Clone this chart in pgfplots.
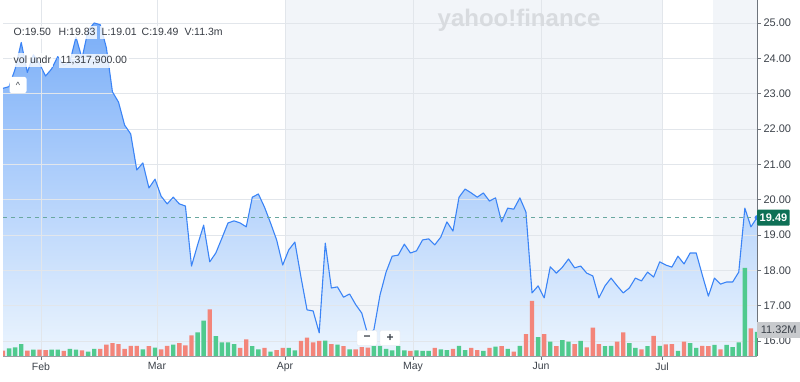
\documentclass[border=0pt]{standalone}
\usepackage{fontspec}
\setmainfont{Liberation Sans}
\usepackage{pgfplots}
\usepackage{pgfplotstable}
\pgfplotsset{compat=1.18}

\definecolor{linec}{RGB}{59,132,246}
\definecolor{gridc}{RGB}{226,230,235}
\definecolor{bgshade}{RGB}{242,245,249}
\definecolor{upc}{RGB}{80,202,142}
\definecolor{downc}{RGB}{243,133,122}
\definecolor{dashc}{RGB}{105,168,160}
\definecolor{closec}{RGB}{14,112,86}
\definecolor{volbox}{RGB}{200,202,205}
\definecolor{textc}{RGB}{60,66,74}
\definecolor{axisc}{RGB}{110,116,124}
\definecolor{fillTop}{RGB}{122,174,248}
\definecolor{fillBot}{RGB}{236,245,254}
\definecolor{wmark}{RGB}{216,219,223}

\pgfplotstableread{
i p
0 23.15
1 23.2
2 23.7
3 24.45
4 23.6
5 24.1
6 23.85
7 23.5
8 23.7
9 24.05
10 23.8
11 23.9
12 24.6
13 24.0
14 24.8
15 25.0
16 24.95
17 24.3
18 23.05
19 22.76
20 22.11
21 21.86
22 20.84
23 21.04
24 20.33
25 20.58
26 20.10
27 19.88
28 20.07
29 19.88
30 19.82
31 18.12
32 18.72
33 19.28
34 18.24
35 18.49
36 18.91
37 19.34
38 19.40
39 19.34
40 19.23
41 20.07
42 20.16
43 19.79
44 19.34
45 18.86
46 18.15
47 18.58
48 18.80
49 17.81
50 16.88
51 16.85
52 16.23
53 18.77
54 17.50
55 17.53
56 17.24
57 17.33
58 17.03
59 16.79
60 16.17
61 16.32
62 17.30
63 17.95
64 18.40
65 18.43
66 18.74
67 18.49
68 18.55
69 18.86
70 18.89
71 18.72
72 18.94
73 19.37
74 19.11
75 20.07
76 20.30
77 20.19
78 20.07
79 20.19
80 19.96
81 20.05
82 19.37
83 19.76
84 19.73
85 20.05
86 19.65
87 17.36
88 17.56
89 17.22
90 18.10
91 17.92
92 18.09
93 18.32
94 18.07
95 18.12
96 17.92
97 17.84
98 17.22
99 17.56
100 17.78
101 17.56
102 17.36
103 17.50
104 17.78
105 17.70
106 17.95
107 17.81
108 18.24
109 18.15
110 18.09
111 18.40
112 18.18
113 18.49
114 18.49
115 17.87
116 17.27
117 17.78
118 17.61
119 17.67
120 17.67
121 17.95
122 19.76
123 19.23
124 19.49
}\price

\pgfplotstableread{
i v
1 3.6
2 4.1
3 5.6
5 3.0
8 3.0
9 3.0
11 3.4
12 3.0
14 2.0
15 3.4
23 3.1
25 3.9
28 5.3
32 11.1
33 16.6
35 9.3
36 6.4
37 6.4
38 5.6
41 4.6
42 3.1
44 2.0
47 3.8
48 2.7
53 7.2
55 5.3
57 3.1
61 4.6
62 4.7
63 3.3
64 2.7
65 4.6
66 2.7
68 2.7
69 2.4
70 2.4
72 3.1
73 2.8
75 4.8
76 2.8
79 2.4
81 4.4
83 3.4
85 4.8
88 8.9
90 6.7
92 7.5
93 6.7
95 7.1
99 4.6
100 4.8
103 6.0
104 3.8
106 4.6
108 4.8
111 2.4
113 6.1
114 3.8
117 5.2
119 5.2
120 4.2
121 6.4
122 41.4
124 11.32
}\volup

\pgfplotstableread{
i v
0 2.5
4 2.5
6 3.0
7 2.8
10 2.4
13 2.7
16 3.4
17 5.3
18 6.1
19 5.6
20 3.4
21 4.8
22 4.8
24 4.6
26 3.1
27 4.7
29 6.1
30 5.0
31 9.7
34 21.9
39 3.8
40 7.8
43 3.8
45 2.8
46 3.8
49 7.1
50 8.6
51 6.4
52 7.1
54 5.6
56 4.6
58 3.1
59 4.2
60 3.9
67 2.4
71 3.8
74 3.4
77 3.8
78 2.8
80 3.8
82 4.6
84 2.0
86 10.3
87 25.9
89 10.3
91 4.6
94 5.6
96 4.1
97 13.3
98 5.6
101 6.7
102 11.1
105 3.1
107 9.4
109 5.5
110 5.6
112 6.7
115 4.8
116 4.6
118 3.1
123 13.0
}\voldown

\pgfplotsset{
  base/.style={scale only axis, width=754pt, height=356pt, xmin=0, xmax=124,
    at={(0pt,0pt)}, anchor=south west},
}

\begin{document}
\begin{tikzpicture}
% background shading and area fill
\begin{axis}[base, hide axis, ymin=15.575, ymax=25.651]
  \fill[bgshade] (axis cs:46.38,15.575) rectangle (axis cs:108.39,25.651);
  \fill[bgshade] (axis cs:116.8,15.575) rectangle (axis cs:124,25.651);
  \addplot[draw=none, top color=fillTop, bottom color=fillBot]
     table[x=i,y=p] {\price} |- (axis cs:0,15.575) -- cycle;
\end{axis}
% price axis with grid
\begin{axis}[base, ymin=15.575, ymax=25.651,
  axis y line*=right, axis x line*=bottom,
  x axis line style={-, color=axisc!70, line width=0.9pt},
  y axis line style={-, color=axisc, line width=0.9pt},
  ytick={16,17,...,25},
  xtick={6.25,25.33,46.38,67.43,88.49,108.39},
  xticklabels={Feb,Mar,Apr,May,Jun,Jul},
  grid=major, major grid style={gridc, line width=0.8pt},
  tick align=outside, major tick length=4pt,
  tick style={color=axisc, line width=0.8pt},
  yticklabel style={font=\fontsize{11}{13}\selectfont, color=textc, xshift=-1pt},
  yticklabel={\pgfmathprintnumber[fixed,fixed zerofill,precision=2,assume math mode=true]{\tick}},
  xticklabel style={font=\fontsize{10.5}{12}\selectfont, color=textc, yshift=1pt},
  clip=false]
  \addplot[linec, line width=1.1pt, line join=round] table[x=i,y=p] {\price};
  \addplot[dashc, line width=0.9pt, dash pattern=on 4pt off 4pt] coordinates {(0,19.49) (124,19.49)};
  \addplot[only marks, mark=*, mark size=2.2pt, linec] coordinates {(124,19.49)};
\end{axis}
% volume bars
\begin{axis}[base, hide axis, ymin=0, ymax=167.3, ybar, bar width=0.72, bar shift=0pt]
  \addplot[fill=upc, draw=none] table[x=i,y=v] {\volup};
  \addplot[fill=downc, draw=none] table[x=i,y=v] {\voldown};
\end{axis}
% overlays
\node[wmark, font=\fontsize{24}{26}\selectfont\bfseries] at (516pt,336pt) {yahoo!finance};
\begin{scope}[every node/.style={anchor=base west, font=\fontsize{10.5}{12}\selectfont, text=textc!90!black, fill=white, fill opacity=0.8, text opacity=1, inner xsep=1.5pt, inner ysep=3pt}]
  \node at (9pt,320pt) {O:19.50};
  \node at (54pt,320pt) {H:19.83};
  \node at (97pt,320pt) {L:19.01};
  \node at (137pt,320pt) {C:19.49};
  \node at (180pt,320pt) {V:11.3m};
  \node at (9pt,292pt) {vol undr};
  \node at (56pt,292pt) {11,317,900.00};
\end{scope}
\node[fill=white, rounded corners=2pt, minimum width=17pt, minimum height=16pt, inner sep=0pt, font=\fontsize{9}{10}\selectfont, text=textc] at (15pt,271pt) {\^{}};
\node[fill=white, draw=gridc, rounded corners=1pt, minimum width=20pt, minimum height=15pt, inner sep=0pt, font=\fontsize{12}{12}\selectfont\bfseries, text=textc] at (364pt,18pt) {−};
\node[fill=white, draw=gridc, rounded corners=1pt, minimum width=20pt, minimum height=15pt, inner sep=0pt, font=\fontsize{12}{12}\selectfont\bfseries, text=textc] at (387pt,18pt) {+};
\node[anchor=west, fill=closec, text=white, font=\fontsize{11}{13}\selectfont\bfseries, inner xsep=2.5pt, inner ysep=2.5pt, rounded corners=1pt, minimum height=16pt] at (754pt,138.3pt) {19.49};
\node[anchor=west, fill=volbox, text=textc, font=\fontsize{11}{13}\selectfont, inner xsep=3pt, inner ysep=2.5pt, minimum height=16pt, minimum width=43pt] at (754pt,26pt) {11.32M};
\pgfresetboundingbox
\path (-3pt,-26pt) rectangle (797pt,356pt);
\end{tikzpicture}
\end{document}
